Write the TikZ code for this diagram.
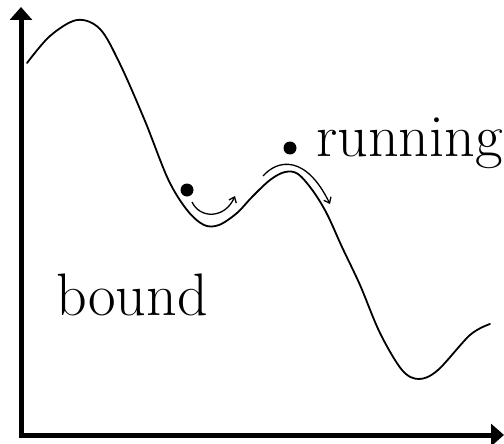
\documentclass[tikz,border=0pt]{standalone}
\usetikzlibrary{arrows.meta, positioning}

\begin{document}
\begin{tikzpicture}[x=1pt, y=-1pt,
  axis/.style={line width=5pt, line join=miter,
    {Triangle[length=13pt, width=22pt]}-{Triangle[length=13pt, width=22pt]}},
  landscape/.style={line width=1.8pt, line join=round, line cap=round},
  ball/.style={circle, fill=black, inner sep=0pt, minimum size=13pt},
  word/.style={font=\fontsize{60}{64}\selectfont, anchor=base west, inner sep=0pt},
  arr/.style={-{Straight Barb[length=5pt, width=8pt]}, line width=1.3pt}
]
\useasboundingbox (0,0) rectangle (504,444);
\coordinate (ytop) at (21,7);
\coordinate (origin) at (21,435);
\coordinate (xend) at (504,435);
\draw[axis] (ytop) -- (origin) -- (xend);
% energy landscape
\draw[landscape] plot[smooth, tension=0.55] coordinates {
  (27,63) (50,36) (77,20) (100,29) (120,64) (145,121) (168,179)
  (187,210) (204,225) (219,225) (237,213) (252,197) (270,180)
  (285,172) (298,174) (313,191) (327,214) (342,247) (360,285)
  (380,333) (402,370) (419,379) (438,370) (470,335) (490,324)};
\node[ball] (trapped) at (187,190) {};
\node[ball] (free) at (290,148) {};
\node[word] (running) at (316,157) {running};
\node[word] (bound) at (56,315) {bound};
% small arrows
\coordinate (hopA) at (192,202);
\coordinate (hopB) at (235,196);
\coordinate (runA) at (263,176);
\coordinate (runB) at (330,204);
\draw[arr] (hopA) .. controls (200,219) and (225,219) .. (hopB);
\draw[arr] (runA) .. controls (278,159) and (306,155) .. (runB);
\end{tikzpicture}
\end{document}
